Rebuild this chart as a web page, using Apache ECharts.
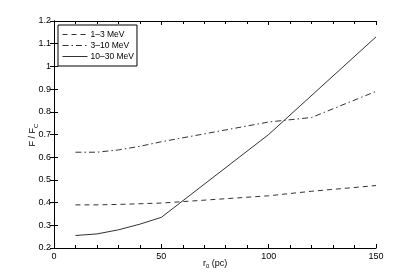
<!DOCTYPE html>
<html>
<head>
<meta charset="utf-8">
<script src="https://cdn.jsdelivr.net/npm/echarts@6/dist/echarts.min.js"></script>
<style>html,body{margin:0;padding:0;background:#fff}#c{width:415px;height:280px}</style>
</head>
<body>
<div id="c"></div>
<script>
var xLow = [10, 20, 30, 40, 50, 100, 120, 150];
var yLow = [0.39, 0.39, 0.392, 0.395, 0.398, 0.43, 0.45, 0.475];
var xMid = [10, 20, 30, 40, 50, 100, 120, 150];
var yMid = [0.622, 0.622, 0.632, 0.648, 0.668, 0.755, 0.775, 0.89];
var xHigh = [10, 20, 30, 40, 50, 100, 150];
var yHigh = [0.255, 0.262, 0.28, 0.305, 0.335, 0.70, 1.13];
var names = ['1\u20133 MeV', '3\u201310 MeV', '10\u201330 MeV'];

function pairs(xs, ys) { return xs.map(function (x, i) { return [x, ys[i]]; }); }

var font = 'Liberation Sans, Arial, sans-serif';
var chart = echarts.init(document.getElementById('c'), null, {renderer: 'canvas'});
var axisCommon = {
  axisLine: {show: true, lineStyle: {color: '#000', width: 1}},
  axisTick: {show: true, inside: true, length: 4, lineStyle: {color: '#000'}},
  splitLine: {show: false}
};
chart.setOption({
  animation: false,
  backgroundColor: '#fff',
  grid: {left: 54, right: 39, top: 21, bottom: 32},
  legend: {
    left: 58, top: 25, orient: 'vertical',
    data: names,
    itemWidth: 25, itemHeight: 8, itemGap: 2,
    padding: [5, 3, 5, 4],
    borderColor: '#000', borderWidth: 1, backgroundColor: '#fff',
    itemStyle: {opacity: 0},
    lineStyle: {width: 1},
    textStyle: {fontFamily: font, fontSize: 8.5, color: '#000', padding: [0, 0, 0, -2]}
  },
  xAxis: [
    Object.assign({type: 'value', min: 0, max: 150, interval: 50, position: 'bottom',
      minorTick: {show: true, splitNumber: 5, length: 3, lineStyle: {color: '#000'}},
      axisLabel: {fontFamily: font, fontSize: 9, color: '#000', margin: 4}}, axisCommon),
    Object.assign({type: 'value', min: 0, max: 150, interval: 50, position: 'top',
      minorTick: {show: true, splitNumber: 5, length: 3, lineStyle: {color: '#000'}},
      axisLabel: {show: false}}, axisCommon)
  ],
  yAxis: [
    Object.assign({type: 'value', min: 0.2, max: 1.2, interval: 0.1, position: 'left',
      axisLabel: {fontFamily: font, fontSize: 9, color: '#000', margin: 3,
        formatter: function (v) { return String(parseFloat(v.toFixed(1))); }}}, axisCommon),
    Object.assign({type: 'value', min: 0.2, max: 1.2, interval: 0.1, position: 'right',
      axisLabel: {show: false}}, axisCommon)
  ],
  graphic: [
    {type: 'text', left: 203, top: 259,
      style: {rich: {n: {fontFamily: font, fontSize: 9, fill: '#000'}, s: {fontFamily: font, fontSize: 6, fill: '#000', verticalAlign: 'bottom', padding: [6, 0, 0, 0]}},
        text: '{n|r}{s|0}{n| (pc)}'}},
    {type: 'text', x: 27, y: 135, rotation: Math.PI / 2,
      style: {rich: {n: {fontFamily: font, fontSize: 9, fill: '#000'}, s: {fontFamily: font, fontSize: 6, fill: '#000', padding: [6, 0, 0, 0]}},
        text: '{n|F / F}{s|C}', align: 'center'}}
  ],
  series: [
    {name: names[0], type: 'line', data: pairs(xLow, yLow), symbol: 'none',
      lineStyle: {color: '#333', width: 1, type: [5, 4]}, itemStyle: {color: '#333'}},
    {name: names[1], type: 'line', data: pairs(xMid, yMid), symbol: 'none',
      lineStyle: {color: '#333', width: 1, type: [6, 3, 1.5, 3]}, itemStyle: {color: '#333'}},
    {name: names[2], type: 'line', data: pairs(xHigh, yHigh), symbol: 'none',
      lineStyle: {color: '#333', width: 1, type: 'solid'}, itemStyle: {color: '#333'}}
  ]
});
</script>
</body>
</html>
